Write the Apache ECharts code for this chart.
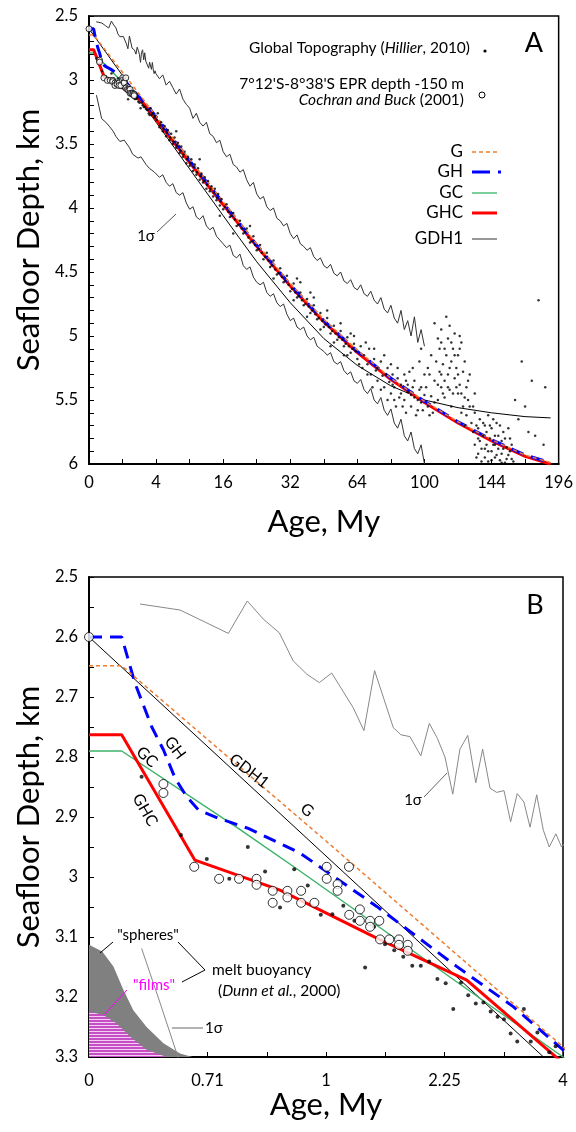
<!DOCTYPE html>
<html><head><meta charset="utf-8">
<script src="https://cdn.jsdelivr.net/npm/echarts@6/dist/echarts.min.js"></script>
<style>html,body{margin:0;padding:0;background:#fff}#c{width:576px;height:1132px}</style>
</head><body><div id="c"></div>
<script>
// x values are sqrt(age in My); y values are seafloor depth in km
const labelsA = ['0','4','16','32','64','100','144','196'];
const labelsB = ['0','0.71','1','2.25','4'];

const modelG = [[0,2.648],[0.138,2.648],[1,2.94],[2,3.283],[3,3.62],[4,3.95],[5,4.28],[6,4.59],[7,4.87],[8,5.11],[9,5.33],[10,5.51],[11,5.67],[12,5.81],[13,5.93],[13.76,5.99]];
const modelGH = [[0,2.6],[0.138,2.6],[0.194,2.677],[0.265,2.75],[0.314,2.788],[0.363,2.835],[0.412,2.866],[0.461,2.888],[0.546,2.902],[0.672,2.919],[0.89,2.96],[1.214,3.049],[1.551,3.149],[1.79,3.216],[2,3.288],[3,3.63],[4,3.96],[5,4.29],[6,4.60],[7,4.88],[8,5.12],[9,5.33],[10,5.51],[11,5.67],[12,5.81],[13,5.93],[13.76,5.99]];
const modelGC = [[0,2.79],[0.138,2.79],[0.63,2.919],[0.89,2.99],[2,3.30],[3,3.64],[4,3.97],[5,4.30],[6,4.61],[7,4.89],[8,5.13],[9,5.34],[10,5.52],[11,5.68],[12,5.82],[13,5.94],[13.76,6.0]];
const modelGHC = [[0,2.763],[0.138,2.763],[0.447,2.972],[0.806,3.022],[1.214,3.102],[1.594,3.172],[2,3.31],[3,3.645],[4,3.975],[5,4.30],[6,4.61],[7,4.89],[8,5.13],[9,5.34],[10,5.52],[11,5.68],[12,5.82],[13,5.94],[13.76,6.0]];
const modelGDH1 = [[0,2.6],[1,2.965],[2,3.33],[3,3.695],[4,4.06],[4.47,4.23],[5,4.42],[6,4.74],[7,5.02],[8,5.23],[9,5.39],[10,5.50],[11,5.56],[12,5.60],[13,5.63],[13.76,5.64]];

const sigmaUpper = [[0.215,2.545],[0.384,2.555],[0.489,2.575],[0.588,2.594],[0.668,2.540],[0.735,2.570],[0.803,2.593],[0.862,2.640],[0.919,2.662],[0.972,2.676],[1.024,2.660],[1.115,2.718],[1.160,2.756],[1.205,2.656],[1.284,2.751],[1.316,2.763],[1.354,2.766],[1.400,2.798],[1.436,2.744],[1.470,2.769],[1.502,2.800],[1.535,2.862],[1.565,2.787],[1.598,2.764],[1.632,2.843],[1.661,2.787],[1.692,2.852],[1.720,2.859],[1.751,2.856],[1.779,2.908],[1.807,2.861],[1.835,2.875],[1.861,2.917],[1.889,2.863],[1.917,2.922],[1.942,2.950],[1.970,2.928],[1.994,2.950],[2.008,2.943],
[2.1,2.99],[2.2,2.96],[2.3,3.04],[2.4,3.01],[2.5,3.06],[2.6,3.11],[2.7,3.07],[2.8,3.15],[2.9,3.19],[3.0,3.22],
[3.1,3.30],[3.2,3.26],[3.3,3.33],[3.4,3.36],[3.5,3.33],[3.6,3.42],[3.7,3.44],[3.8,3.49],[3.9,3.47],[4.0,3.56],
[4.1,3.60],[4.2,3.58],[4.3,3.66],[4.4,3.68],[4.5,3.72],[4.6,3.70],[4.7,3.78],[4.8,3.83],[4.9,3.80],[5.0,3.89],
[5.1,3.93],[5.2,3.91],[5.3,3.99],[5.4,4.02],[5.5,4.00],[5.6,4.08],[5.7,4.10],[5.8,4.14],[5.9,4.12],[6.0,4.20],
[6.1,4.24],[6.2,4.21],[6.3,4.28],[6.4,4.30],[6.5,4.33],[6.6,4.31],[6.7,4.38],[6.8,4.41],[6.9,4.39],[7.0,4.45],
[7.1,4.47],[7.2,4.44],[7.3,4.51],[7.4,4.53],[7.5,4.50],[7.6,4.57],[7.7,4.59],[7.8,4.56],[7.9,4.62],[8.0,4.64],
[8.1,4.60],[8.2,4.67],[8.3,4.69],[8.4,4.65],[8.5,4.72],[8.6,4.75],[8.7,4.70],[8.8,4.79],[8.9,4.82],[9.0,4.76],
[9.1,4.86],[9.2,4.90],[9.3,4.80],[9.4,4.95],[9.5,4.88],[9.6,5.00],[9.7,4.85],[9.8,5.05],[9.9,4.95],[10.0,5.08]];

const sigmaLower = [[0.222,3.119],[0.30,3.21],[0.377,3.302],[0.5,3.33],[0.6,3.36],[0.72,3.40],[0.8,3.44],[0.92,3.48],[1.05,3.47],[1.21,3.53],[1.3,3.58],[1.46,3.61],[1.55,3.60],[1.7,3.66],[1.8,3.69],[1.95,3.72],
[2.1,3.76],[2.2,3.74],[2.3,3.80],[2.4,3.83],[2.5,3.81],[2.6,3.88],[2.7,3.90],[2.8,3.88],[2.9,3.96],[3.0,4.01],
[3.1,3.99],[3.2,4.07],[3.3,4.09],[3.4,4.06],[3.5,4.14],[3.6,4.17],[3.7,4.15],[3.8,4.22],[3.9,4.25],[4.0,4.28],
[4.1,4.31],[4.2,4.29],[4.3,4.37],[4.4,4.39],[4.5,4.36],[4.6,4.45],[4.7,4.48],[4.8,4.46],[4.9,4.54],[5.0,4.58],
[5.1,4.60],[5.2,4.58],[5.3,4.66],[5.4,4.69],[5.5,4.67],[5.6,4.74],[5.7,4.77],[5.8,4.75],[5.9,4.83],[6.0,4.88],
[6.1,4.86],[6.2,4.93],[6.3,4.95],[6.4,4.93],[6.5,5.00],[6.6,5.03],[6.7,5.01],[6.8,5.08],[6.9,5.10],[7.0,5.12],
[7.1,5.15],[7.2,5.13],[7.3,5.20],[7.4,5.22],[7.5,5.20],[7.6,5.27],[7.7,5.30],[7.8,5.28],[7.9,5.35],[8.0,5.37],
[8.1,5.34],[8.2,5.42],[8.3,5.45],[8.4,5.41],[8.5,5.50],[8.6,5.53],[8.7,5.48],[8.8,5.58],[8.9,5.62],[9.0,5.57],
[9.1,5.68],[9.2,5.72],[9.3,5.65],[9.4,5.78],[9.5,5.82],[9.6,5.75],[9.7,5.88],[9.8,5.92],[9.9,5.85],[10.0,6.0]];

const hillier = [[0.222,2.833],[0.388,2.930],[0.497,2.970],[0.592,3.003],[0.670,2.950],[0.743,2.991],[0.806,3.051],[0.866,2.987],[0.923,3.014],[0.978,3.063],[1.027,3.062],[1.073,3.048],[1.12,3.073],[1.165,3.151],[1.203,3.083],[1.249,3.112],[1.288,3.122],[1.326,3.133],[1.364,3.148],[1.4,3.148],[1.435,3.141],[1.47,3.17],[1.505,3.177],[1.537,3.22],[1.57,3.176],[1.6,3.197],[1.632,3.211],[1.664,3.209],[1.695,3.224],[1.724,3.233],[1.751,3.237],[1.779,3.261],[1.807,3.274],[1.835,3.22],[1.864,3.274],[1.892,3.259],[1.942,3.292],[1.969,3.282],
[2.05,3.26],[2.1,3.37],[2.15,3.33],[2.2,3.40],[2.25,3.36],[2.3,3.44],[2.35,3.39],[2.4,3.47],[2.45,3.42],[2.5,3.50],[2.55,3.45],[2.6,3.53],[2.65,3.49],[2.7,3.57],[2.75,3.52],[2.8,3.60],[2.85,3.56],[2.9,3.65],[2.95,3.60],[3.0,3.67],[3.05,3.62],[3.1,3.71],[3.15,3.66],[3.2,3.74],[3.25,3.69],[3.3,3.78],[3.35,3.73],[3.4,3.80],[3.45,3.76],[3.5,3.85],[3.55,3.79],[3.6,3.87],[3.65,3.83],[3.7,3.91],[3.75,3.85],[3.8,3.94],[3.85,3.89],[3.9,3.98],[3.95,3.93],[4.0,4.01],
[4.1,3.97],[4.2,4.07],[4.3,4.04],[4.4,4.14],[4.5,4.10],[4.6,4.20],[4.7,4.16],[4.8,4.27],[4.9,4.22],[5.0,4.33],[5.1,4.29],[5.2,4.40],[5.3,4.35],[5.4,4.46],[5.5,4.41],[5.6,4.52],[5.7,4.47],[5.8,4.58],[5.9,4.53],[6.0,4.65],[6.1,4.59],[6.2,4.70],[6.3,4.66],[6.4,4.76],[6.5,4.71],[6.6,4.82],[6.7,4.76],[6.8,4.87],[6.9,4.82],[7.0,4.93],[7.1,4.86],[7.2,4.98],[7.3,4.92],[7.4,5.03],[7.5,4.96],[7.6,5.08],[7.7,5.01],[7.8,5.13],[7.9,5.06],[8.0,5.18],
[2.6,3.40],[3.3,3.62],[4.3,4.20],[5.5,4.55],[6.2,4.55],[4.8,4.14],[3.9,4.06],
[2.02,3.31],[2.12,3.35],[2.22,3.38],[2.32,3.41],[2.42,3.45],[2.52,3.48],[2.62,3.51],[2.72,3.55],[2.82,3.58],[2.92,3.62],[3.02,3.65],[3.12,3.68],[3.22,3.72],[3.32,3.75],[3.42,3.79],[3.52,3.82],[3.62,3.85],[3.72,3.88],[3.82,3.92],[3.92,3.95],[4.05,3.99],[4.15,4.03],[4.25,4.06],[4.35,4.09],[4.45,4.13],[4.55,4.16],[4.65,4.19],[4.75,4.23],[4.85,4.26],[4.95,4.29],[5.05,4.32],[5.15,4.35],[5.25,4.38],[5.35,4.41],[5.45,4.45],[5.55,4.48],[5.65,4.51],[5.75,4.54],[5.85,4.57],[5.95,4.60],[6.05,4.63],[6.15,4.66],[6.25,4.69],[6.35,4.72],[6.45,4.75],[6.55,4.77],[6.65,4.80],[6.75,4.83],[6.85,4.86],[6.95,4.88],[7.05,4.91],[7.15,4.93],[7.25,4.96],[7.35,4.98],[7.45,5.01],[7.55,5.03],[7.65,5.06],[7.75,5.08],[7.85,5.10],[7.95,5.12],
[6.1,4.72],[6.3,4.58],[6.5,4.85],[6.7,4.70],[6.9,4.95],[7.1,4.80],[7.3,5.05],[7.5,4.90],[7.7,5.15],[7.9,5.00],[6.6,4.66],[7.2,5.08],[7.6,5.15],[7.8,4.98],
[8.1,5.08],[8.15,5.25],[8.2,5.15],[8.3,5.22],[8.35,5.10],[8.4,5.30],[8.5,5.18],[8.55,5.27],[8.6,5.35],[8.7,5.20],[8.75,5.31],[8.8,5.40],[8.9,5.25],[8.95,5.36],[9.0,5.45],[9.05,5.30],[9.1,5.40],[9.2,5.33],[9.25,5.48],[9.3,5.38],[9.4,5.50],[9.45,5.35],[9.5,5.44],[9.6,5.55],[9.65,5.40],[9.7,5.48],[9.8,5.58],[9.85,5.42],[9.9,5.52],[10.0,5.46],[8.45,5.40],[9.15,5.55],[9.75,5.62],[8.9,5.50],[9.55,5.28],
[8.05,5.22],[8.25,5.05],[8.3,5.30],[8.5,5.10],[8.6,5.25],[8.7,5.42],[8.8,5.15],[8.85,5.30],[9.0,5.22],[9.05,5.38],[9.1,5.50],[9.2,5.25],[9.3,5.45],[9.35,5.55],[9.4,5.30],[9.5,5.38],[9.6,5.46],[9.7,5.35],[9.8,5.50],[9.9,5.40],[9.95,5.58],[10.0,5.30],[9.45,5.60],[9.65,5.25],[9.85,5.20],[9.9,5.10],
[10.05,5.40],[10.1,5.55],[10.15,5.30],[10.2,5.47],[10.25,5.60],[10.3,5.35],[10.35,5.20],[10.4,5.50],[10.45,5.10],[10.45,5.28],[10.5,5.40],[10.5,5.05],[10.55,5.22],[10.6,5.35],[10.6,5.48],[10.65,5.15],[10.7,5.30],[10.7,5.02],[10.75,5.42],[10.8,5.20],[10.8,5.55],[10.85,5.10],[10.9,5.33],[10.9,4.98],[10.95,5.25],[11.0,5.45],[11.0,5.15],[11.05,5.38],[11.1,5.05],[11.1,5.60],[11.15,5.28],[11.2,5.48],[11.25,5.62],[11.3,5.35],[11.35,5.55],[10.3,4.90],[10.65,4.85],[11.2,5.70],[10.15,5.62],[11.4,5.68],
[10.1,5.25],[10.2,5.15],[10.3,5.52],[10.4,5.38],[10.4,5.02],[10.5,5.30],[10.55,5.45],[10.6,5.10],[10.7,5.40],[10.75,5.25],[10.8,5.05],[10.85,5.45],[10.9,5.15],[10.95,5.40],[11.0,5.30],[11.05,5.10],[11.1,5.45],[11.15,5.55],[11.2,5.20],[11.25,5.40],[11.3,5.50],[11.35,5.30],[10.5,4.95],[10.75,4.92],[11.05,5.00],
[11.45,5.75],[11.5,5.85],[11.55,5.70],[11.6,5.92],[11.6,5.80],[11.65,5.65],[11.7,5.88],[11.75,5.78],[11.8,5.95],[11.8,5.70],[11.85,5.85],[11.9,5.62],[11.9,5.98],[11.95,5.80],[12.0,5.90],[12.0,5.72],[12.05,5.85],[12.1,5.95],[12.1,5.78],[12.15,5.68],[12.2,5.88],[12.25,5.97],[12.3,5.82],[12.3,5.92],[12.35,5.75],[12.4,5.99],[12.45,5.87],[12.5,5.93],[12.55,5.80],[12.6,5.96],
[11.5,5.60],[11.55,5.95],[11.6,5.72],[11.65,5.82],[11.7,5.98],[11.75,5.68],[11.8,5.88],[11.85,5.75],[11.9,5.90],[11.95,5.70],[12.0,5.97],[12.05,5.65],[12.1,5.85],[12.15,5.93],[12.2,5.78],[12.25,5.70],[12.3,5.99],[12.35,5.88],[12.4,5.80],[12.45,5.96],[12.5,5.72],[12.55,5.90],[12.6,5.85],[12.65,5.98],[11.45,5.55],[11.5,5.45],
[13.4,4.72],[13.2,5.35],[13.6,5.40],[12.9,5.20],[13.0,5.55],[12.8,5.65],[13.3,5.78],[13.55,5.85],[12.7,5.50],[13.1,5.75]];

const cochran = [[0,2.6],[0.314,2.845],[0.314,2.86],[0.444,2.983],[0.549,3.003],[0.633,3.003],[0.707,3.003],[0.707,3.013],[0.775,3.023],[0.775,3.043],[0.837,3.023],[0.837,3.034],[0.895,3.023],[0.895,3.043],[0.951,3.043],[1.003,2.983],[1.003,3.003],[1.049,3.012],[1.049,3.023],[1.097,2.983],[1.143,3.054],[1.098,3.063],[1.143,3.073],[1.186,3.073],[1.186,3.083],[1.225,3.073],[1.228,3.104],[1.267,3.104],[1.308,3.104],[1.308,3.113],[1.345,3.113],[1.345,3.123]];

const meltSpheres = [[0,3.113],[0.056,3.124],[0.103,3.149],[0.145,3.188],[0.187,3.222],[0.243,3.25],[0.314,3.277],[0.384,3.294],[0.454,3.302]];
const meltFilms = [[0,3.224],[0.06,3.23],[0.117,3.244],[0.173,3.266],[0.243,3.288],[0.328,3.30]];

const FONT = 'Lato, "Open Sans", sans-serif';
const chart = echarts.init(document.getElementById('c'), null, {renderer:'canvas'});

// striped fill for the "films" region
const pat = document.createElement('canvas'); pat.width = 4; pat.height = 3;
const pg = pat.getContext('2d');
pg.fillStyle = '#c64fc6'; pg.fillRect(0,0,4,2);
pg.fillStyle = '#f3d0f3'; pg.fillRect(0,2,4,1);

function xAxisCfg(p){
  const isA = p===0;
  return {
    type:'value', gridIndex:p, min:0, max: isA?14:2, interval: isA?2:0.5,
    name:'Age, My', nameLocation:'middle', nameGap: isA?42:29,
    nameTextStyle:{fontSize:31, fontFamily:FONT, color:'#000'},
    axisLine:{show:true, onZero:false, lineStyle:{color:'#000', width:2}},
    axisTick:{show:true, inside:true, length:5, lineStyle:{color:'#000'}},
    minorTick:{show:true, splitNumber:2, length:5, lineStyle:{color:'#000'}},
    splitLine:{show:false},
    axisLabel:{fontSize:16.5, fontFamily:FONT, color:'#000', margin: isA?10:15,
      formatter: v => isA ? labelsA[Math.round(v/2)] : labelsB[Math.round(v/0.5)]}
  };
}
function yAxisCfg(p){
  const isA = p===0;
  return {
    type:'value', gridIndex:p, inverse:true, min:2.5, max: isA?6:3.3, interval: isA?0.5:0.1,
    name:'Seafloor Depth, km', nameLocation:'middle', nameRotate:90, nameGap:44,
    nameTextStyle:{fontSize:31, fontFamily:FONT, color:'#000'},
    axisLine:{show:true, onZero:false, lineStyle:{color:'#000', width:2}},
    axisTick:{show:true, inside:true, length:5, lineStyle:{color:'#000'}},
    minorTick:{show:true, splitNumber: isA?5:2, length:5, lineStyle:{color:'#000'}},
    splitLine:{show:false},
    axisLabel:{fontSize:16.5, fontFamily:FONT, color:'#000', margin:11}
  };
}

function panelSeries(p){
  const isA = p===0;
  const base = {xAxisIndex:p, yAxisIndex:p, animation:false};
  const line = (data, style, z) => Object.assign({type:'line', data, symbol:'none', showSymbol:false, lineStyle:style, z, clip:true}, base);
  const s = [];
  if(!isA){
    s.push(Object.assign({type:'line', data: meltSpheres, symbol:'none', lineStyle:{width:0}, areaStyle:{color:'#808080', opacity:1, origin:'end'}, z:1, clip:true}, base));
    s.push(Object.assign({type:'line', data: meltFilms, symbol:'none', lineStyle:{width:0}, areaStyle:{color:{image:pat, repeat:'repeat'}, opacity:1, origin:'end'}, z:1, clip:true}, base));
  }
  s.push(line(sigmaUpper, {color: isA?'#333':'#888', width:1}, 2));
  s.push(line(sigmaLower, {color: isA?'#333':'#888', width:1}, 2));
  s.push(line(modelGDH1, {color:'#000', width:1}, 3));
  s.push(line(modelGC, {color:'#3cb46a', width:1.5}, 4));
  s.push(line(modelGHC, {color:'#ff0000', width:3}, 5));
  s.push(line(modelGH, {color:'#0000ff', width:3, type:[13,8]}, 6));
  s.push(line(modelG, {color:'#ed7d31', width:1.5, type:[4,3]}, 7));
  s.push(Object.assign({type:'scatter', data: hillier, symbol:'circle', symbolSize: isA?2.5:4, itemStyle:{color:'#000'}, z:8, clip:true}, base));
  s.push(Object.assign({type:'scatter', data: cochran, symbol:'circle', symbolSize: isA?6:9, itemStyle:{color:'#fff', borderColor:'#000', borderWidth:1}, z:9, clip:false}, base));
  return s;
}

function txt(x, y, text, opt){
  opt = opt || {};
  return {type:'text', x, y, rotation: opt.rot||0, z:100, style: Object.assign({
    text, fill: opt.color||'#000', fontSize: opt.size||15, fontFamily: FONT,
    fontStyle: opt.italic?'italic':'normal',
    align: opt.align||'center', verticalAlign:'middle',
    textAlign: opt.align||'center', textVerticalAlign:'middle'
  }, opt.rich?{rich:opt.rich}:{})};
}
function seg(x1,y1,x2,y2,color,width,dash){
  return {type:'line', z:100, shape:{x1,y1,x2,y2}, style:{stroke:color||'#000', lineWidth:width||1, lineDash: dash||null}};
}
const richN = {fontSize:15.5, fontFamily:FONT, fill:'#000'};
const richI = {fontSize:15.5, fontFamily:FONT, fontStyle:'italic', fill:'#000'};

const graphics = [
  // Panel A
  txt(534,43,'A',{size:27}),
  txt(470,48,'{n|Global Topography (}{i|Hillier}{n|, 2010)}',{align:'right', rich:{n:richN, i:richI}}),
  {type:'circle', z:100, shape:{cx:485, cy:51, r:1.6}, style:{fill:'#000'}},
  txt(464,84,"7°12'S-8°38'S EPR depth -150 m",{align:'right', size:15.5}),
  txt(464,100,'{i|Cochran and Buck}{n| (2001)}',{align:'right', rich:{n:richN, i:richI}}),
  {type:'circle', z:100, shape:{cx:482, cy:95, r:3}, style:{fill:'#fff', stroke:'#000', lineWidth:1}},
  txt(463,152,'G',{align:'right', size:17}),
  txt(463,172,'GH',{align:'right', size:17}),
  txt(463,193,'GC',{align:'right', size:17}),
  txt(463,213,'GHC',{align:'right', size:17}),
  txt(463,239,'GDH1',{align:'right', size:17}),
  seg(472,152,497,152,'#ed7d31',1.5,[4,3]),
  seg(472,172,490,172,'#0000ff',3),
  seg(498,172,501,172,'#0000ff',3),
  seg(472,193,497,193,'#7ccf9a',2),
  seg(472,213,497,213,'#ff0000',3),
  seg(472,239,497,239,'#333',1),
  txt(146,236,'1σ',{size:15}),
  seg(157,232,176,214,'#555',1),
  // Panel B
  txt(535,605,'B',{size:27}),
  txt(413,800,'1σ',{size:15}),
  seg(424,797,447,773,'#666',1),
  txt(175,748,'GH',{size:16, rot:-0.93}),
  txt(147,757,'GC',{size:16, rot:-0.75}),
  txt(145,810,'GHC',{size:16, rot:-1.05}),
  txt(249,771,'GDH1',{size:16, rot:-0.66}),
  txt(307,810,'G',{size:16, rot:-0.7}),
  txt(148,935,'"spheres"',{size:15}),
  seg(100,953,113,942,'#000',1),
  seg(178,942,205,970,'#000',1),
  seg(182,982,205,970,'#000',1),
  txt(212,970,'melt buoyancy',{align:'left', size:15.5}),
  txt(218,991,'{n|(}{i|Dunn et al.}{n|, 2000)}',{align:'left', rich:{n:richN, i:richI}}),
  txt(154,985,'"films"',{size:15, color:'#ff00ff'}),
  seg(127,990,104,1015,'#ff00ff',1),
  txt(205,1028,'1σ',{align:'left', size:15}),
  seg(172,1028,203,1028,'#666',1)
];

const option = {
  backgroundColor:'#fff',
  animation:false,
  textStyle:{fontFamily:FONT},
  grid:[
    {left:89, top:16, width:474, height:448, show:true, borderColor:'#000', borderWidth:1.5, backgroundColor:'transparent', containLabel:false},
    {left:89, top:577, width:474, height:480, show:true, borderColor:'#000', borderWidth:1.5, backgroundColor:'transparent', containLabel:false}
  ],
  xAxis:[xAxisCfg(0), xAxisCfg(1)],
  yAxis:[yAxisCfg(0), yAxisCfg(1)],
  series:[...panelSeries(0), ...panelSeries(1)],
  graphic: graphics
};
chart.setOption(option);
</script></body></html>
